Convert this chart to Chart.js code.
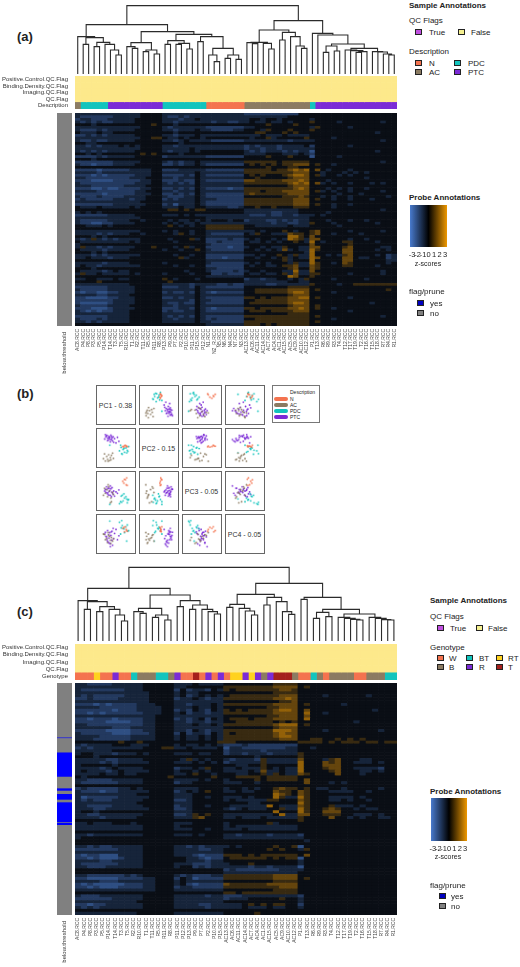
<!DOCTYPE html>
<html>
<head>
<meta charset="utf-8">
<title>Heatmaps and PCA</title>
<script src="https://cdn.jsdelivr.net/npm/chart.js@4/dist/chart.umd.min.js"></script>
<style>
html, body { margin: 0; background: #fff; }
#page { position: relative; width: 520px; height: 967px; overflow: hidden; font-family: "Liberation Sans", Arial, sans-serif; color: #222; }
#page canvas { position: absolute; }
.txt { position: absolute; white-space: nowrap; transform: translateY(-50%); }
.swatch { position: absolute; width: 5px; height: 4px; border: 1px solid #222; }
.pcbox { position: absolute; width: 38px; height: 38px; border: 1px solid #666; display: flex; align-items: center; justify-content: center; font-size: 7px; color: #333; white-space: nowrap; }
.key { position: absolute; width: 14px; height: 4px; border-radius: 2px; }
</style>
</head>
<body>
<div id="page"></div>
<script>
// samples, left to right
const samplesA = ['AC8','P4','P8','P3','P5','P14','T14','T3','T5','R10','T1','R2','T11','R5','R11','R8','P13','P9','P7','P2','P10','P11','P15','P12','N1','N2_R','N5','N6','N4','N7','N3','AC13','AC6','AC11','AC14','AC7','AC4','AC1','AC15','AC5','AC9','AC10','AC12','P1','T13','R6','R9','R3','T4','T12','T17','T19','T2','T16','T15','T18','R7','R4','R1'];
const samplesC = ['AC8','P4','P8','P3','P5','P14','T14','T3','T5','R2','R10','T1','T11','R5','R11','R8','P11','P12','P13','P9','P7','P2','P10','P15','AC13','AC6','AC11','AC14','AC7','AC4','AC1','AC15','AC5','AC9','AC10','AC12','P1','T13','R6','R9','R3','T4','T12','T17','T19','T2','T16','T15','T18','R7','R4','R1'];

const tracksA = ['Positive.Control.QC.Flag','Binding.Density.QC.Flag','Imaging.QC.Flag','QC.Flag','Description'];
const tracksC = ['Positive.Control.QC.Flag','Binding.Density.QC.Flag','Imaging.QC.Flag','QC.Flag','Genotype'];

// A=AC D=PDC T=PTC N=N
const descriptionA = 'ADDDDDTTTTTTTTTTDDDDDDDDNNNNNNNAAAAAAAAAAAADTTTTTTTTTTTTTTT';
// W B K=BT R Y=RT X=T
const genotypeC = 'WWWYWWRWWKBBBKKBRWWXWRWRWYYRYRBRXXXBWWKBWBBBBWWBBBKK';

const annotColors = { A: '#8b7b62', D: '#12c4bd', T: '#7b2bd6', N: '#f4734f', W: '#f4734f', B: '#8b7b62', K: '#12c4bd', R: '#7b2bd6', Y: '#ffd21f', X: '#a5201c' };
const flagColor = '#fde98b';

// dendrograms: [height, left, right], 0 is a leaf
const treeA = [205,
  [148,
    [112, 0, [109, [89, 0, 0], [95, [82, 0, 0], [89, 0, [72, 0, [57, 0, 0]]]]]],
    [127,
      [94, [82, 0, [77, 0, 0]], [72, [67, 0, 0], [60, 0, 0]]],
      [119,
        [100, [89, 0, 0], [92, [89, 0, 0], [75, 0, 0]]],
        [112, [97, 0, 0], [77, [57, 0, [37, 0, 0]], [57, [47, 0, 0], [44, 0, 0]]]]]]],
  [160,
    [132,
      [95, [94, 0, [91, 0, 0]], [92, 0, [75, 0, 0]]],
      [125, [102, 0, 0], [112, 0, [84, 0, [77, 0, 0]]]]],
    [122, 0, [117, 0,
      [90,
        [84, [65, 0, 0], [69, 0, 0]],
        [77, [72, 0, [70, 0, [67, [65, 0, 0], 0]]], [67, 0, [66, 0, [60, 0, [57, 0, 0]]]]]]]]]];

const treeC = [221,
  [158,
    [121, 0, [118, [95, 0, 0], [103, [88, 0, 0], [95, 0, [78, 0, [60, 0, 0]]]]]],
    [138,
      [98, [88, 0, [83, 0, 0]], [78, [71, 0, 0], [63, 0, 0]]],
      [121, [103, 0, 0], [108, [95, 0, 0], [95, 0, [88, 0, [81, 0, 0]]]]]]],
  [173,
    [140,
      [110, [101, 0, 0], [98, 0, [90, 0, [78, 0, 0]]]],
      [131, [108, 0, 0], [118, 0, [88, 0, [80, 0, 0]]]]],
    [131,
      [125, 0, 0],
      [95,
        [86, [68, 0, 0], [73, 0, 0]],
        [81,
          [71, 0, [68, 0, [65, 0, [63, 0, 0]]]],
          [71, 0, [68, 0, [64, 0, [63, 0, 0]]]]]]]]];

// z-scores, one digit per cell: 4 is 0, each step 0.6, one line per probe band
const heatA = [
'333333333 3334444 33333333 3333333 222222222244 44 44444444444444',
'322222233 3334444 32232333 3333333 333333334444 44 44444444444444',
'233222333 3344444 33323343 3333333 344344344444 34 44444444444444',
'323232233 3344444 33233333 3233223 343343343444 54 44434444444344',
'444344444 4444454 44344444 4444444 444454444544 44 44444444444444',
'333333333 3334444 32333333 2222222 334444444444 35 44444344444444',
'322232333 3344444 33233343 3222233 444354445444 54 44444444444444',
'433343344 4444444 44344444 4444444 445544454544 44 44444444443444',
'223232333 3344444 33233343 3333333 333433343333 44 44444444444444',
'333333333 3334455 43343443 4444444 434453444445 44 44344444444444',
'322322333 3344444 33234333 3222222 333333332333 34 44444444444344',
'443344444 4444444 44434444 4444444 444444444444 44 44444444444444',
'332323334 3434444 33233333 3333333 232333233334 24 44444344444444',
'333333333 3334444 33333433 3333333 233233233333 34 44444444444444',
'323232333 3344444 32333434 4444444 323233323233 14 44444444443444',
'443434444 4445454 44434444 4444444 333344433343 24 44444444444444',
'222232333 3344444 23333333 2222222 444454445444 14 44434444444444',
'444344444 4444444 44444444 4444444 444444444444 44 44444444444444',
'222222233 3334444 32323343 3333333 555555455555 44 44444444444344',
'322122233 3344444 22323343 2222222 454545455666 45 44344444444444',
'444444444 4444444 44444444 4444444 444454445544 44 44444444444444',
'222212222 2333344 22233333 2222222 555554556767 46 43444344444444',
'333323333 3333344 33333343 3333333 555555555666 44 34443434344444',
'222121222 2233344 22223243 2222222 454544456776 45 34434344444444',
'332222222 2333444 33233343 3333333 445444445666 44 44444444344444',
'222111122 2223344 22232243 2222222 665555566676 44 43444444444444',
'322222222 2233344 32323243 3333333 555555556767 46 34344344434344',
'333222222 3333444 33333343 3333333 444444445666 44 44444444444444',
'222112112 2223344 22323243 2222122 555555555676 44 43434344344444',
'333322222 2233444 33233343 3333333 555455566666 45 34344344444344',
'222221222 2233344 22323243 2222222 565555556666 44 44434443444444',
'322232222 3333444 32223343 2222222 444444455565 44 34344344444434',
'232222233 3233444 23233343 3322222 555555555666 45 44344344434444',
'333333333 3334444 33333343 2222222 555555555666 44 44444444444444',
'222222233 3333444 23133343 2222222 555555555666 45 44344344444444',
'433343333 3434444 33343344 3333223 445445444555 44 44344444444444',
'444444444 4444444 45545455 4444444 333333333344 44 44444444444344',
'343434444 4444444 44444444 4444444 333332233344 44 43444444444444',
'222222333 3344444 33343433 3333333 322232233233 34 34444444444444',
'333333333 3334444 44444444 3333333 333333333333 44 44444444444444',
'322222333 3443444 43433434 3444344 233322323233 44 43444344344444',
'322112233 3344444 34343343 3333333 333332332233 54 44344444443444',
'443334344 4444444 45434344 5555555 443333334333 44 44434444444444',
'444444444 4444444 44444444 5555555 444444444444 44 44444444444444',
'333333333 3334444 34344344 3333333 334344454344 56 44444344444344',
'333323233 3443444 44354344 3222222 435443336554 56 44344443444444',
'444343444 4444444 44444444 3333333 444444447754 64 44444444444444',
'323532323 3334444 43444534 2222322 343443437653 66 44444344344444',
'433333333 3434444 44344444 2232222 433434344543 74 34445544443444',
'344444444 4444444 44444444 3222222 444444444444 64 44444544444444',
'353323233 3344454 44345344 2222122 344343354433 66 44445644444334',
'433332333 3444444 34434454 3222222 443434363433 75 44446644443434',
'444343444 4444444 44444444 3333333 444444444443 74 44446644444444',
'333232333 3334444 44344344 2222222 334344543533 74 43435644443423',
'334333233 3444444 44453444 2221222 443443453433 76 44446643344423',
'444444444 4444444 44444444 3333333 444444453444 74 44446644444433',
'333332333 3444444 34444444 3222222 343434443533 75 44346544444434',
'343323333 3334444 44344344 2222222 434433455633 65 44445544443444',
'444344444 4444444 44444444 3322222 444444445644 65 44444444444444',
'433332343 3444444 44443444 3222232 344344433733 64 44444444444344',
'353343333 3434444 34444344 4223222 433433453633 55 44444344444344',
'444444444 4444444 44444444 3333333 444444447644 54 44444444444444',
'334433343 3444444 54344434 4444444 233233443435 44 44344444344444',
'444454444 4444444 45444444 4444444 333333334433 44 44444444444444',
'333333333 3444444 33333233 3322322 333322333333 54 44434455555555',
'222222333 3344444 22233243 2222222 444444445555 44 44444444444444',
'322222333 3344444 33333343 3333333 445555556666 45 44444444444454',
'212211223 3344444 23223243 2122222 445555556776 44 44344444444444',
'333322333 3444444 33333343 3333333 444444445666 44 44444444444444',
'221111223 3344444 22323343 2222222 554545556677 45 44444344444444',
'222222233 3344444 33333243 3222222 445555556666 44 44444444444444',
'211111233 3344444 32232243 2222222 455555556776 44 44444444434444',
'322222333 3444444 33233343 3333333 444444445666 45 44444444444444',
'222111233 3344444 22233243 2122222 554555556676 45 44344444444444',
'321212233 3444444 23223343 2222222 455545555666 44 44444344444444',
'333333333 3444444 33333343 3333333 444444445555 44 44444444444444',
'222222333 3444444 32323243 2222222 555555555555 45 44444444444344',
'322232333 3444444 33233343 2322222 445555555555 44 44344444444444',
'332323333 3444444 33333343 3222222 555555555555 45 44444444444444',
'444444444 4444444 44444444 3333333 555454555555 44 44444444444444'
];

const heatC = [
'332222333 3344444 33343333 444444445555 44 44444444444444',
'333333333 3344444 33444444 555555556666 45 44444444444444',
'322222223 3344444 24233243 545555555665 44 44444444444444',
'333333333 3334444 34334444 444444445555 44 44444444444444',
'323222223 3334444 34234343 455555555666 44 44344444434444',
'223222233 3334444 23343233 555555556676 44 44444444444444',
'333333333 3334444 33333333 444444444556 44 44444444444444',
'222121222 2333444 33233343 555555556666 45 44444344444444',
'333322222 2333344 33343343 444444455666 44 44444444444444',
'222222122 2333344 23243243 545455556776 46 44444444443444',
'221212222 2233344 34233233 555555556666 47 44344444444444',
'333333333 3333444 33333333 444444455666 46 44444444444444',
'221222122 2233444 23234243 455545556666 47 44444444444444',
'222221111 2233444 33233233 445555554545 44 44444443444444',
'332222222 2233444 33343343 555555556777 45 44444444444444',
'333333222 3333444 33333333 444444445666 44 44444444444444',
'222221111 2233444 33243233 555555557776 44 44344444444344',
'322222111 2223444 24233243 545555556766 44 44444444444444',
'333322222 3333444 34334343 555555556776 44 44444444444444',
'333222222 3333444 34334343 555555555666 44 55445454544444',
'444444454 4544444 44444445 554444444444 55 55454555455455',
'323333444 3334444 34334343 222322222222 44 44444444444444',
'232333333 3344455 33433334 133222222233 44 34444444444444',
'333333444 4444444 44444444 233333233333 44 44444444444444',
'344333233 3434444 33343344 233233323333 54 44444444444444',
'444344444 4444444 44444444 444443444444 54 44444444444444',
'333332233 3344444 43534344 323332533333 64 44356444334444',
'333323233 3334444 33343434 233333533333 74 44656443334344',
'344444344 4444444 44444444 443344544444 74 44666444444444',
'333323433 3344444 23343544 334333543433 74 44566443333244',
'343332343 3334444 34434344 333343633433 74 44456444334344',
'333343343 3444444 33454434 443344535433 65 44446444344444',
'434444444 4444445 44444454 445555455555 44 44444444444444',
'332222333 3344444 33334344 344445455555 46 44444444444444',
'322222233 3344444 23344444 333443444444 46 44434344444444',
'444444444 4444444 44444444 444444444444 44 44444444444444',
'232222233 4344444 33334444 344343445655 45 43344344444344',
'322212233 3334444 23434544 334334446554 65 44433334434444',
'333333333 3444444 33344444 444444447654 65 44444444444444',
'312222233 3334444 33344344 333434447533 75 44433334344444',
'323222333 3344444 22344444 343333355444 65 44433434434444',
'333333333 3444444 33344444 444433444444 75 44444444444444',
'332222333 3344444 23344344 433333374333 65 44453334344444',
'333223333 3334444 22344444 323433344533 75 44565443433444',
'344344444 4444444 33344444 444444447444 75 44666444444444',
'332233333 3344444 22354544 333333334733 66 44555443334344',
'333323333 3444444 33356444 334333433333 54 44464434344334',
'444444444 4444444 44444444 444444444444 54 44444444444444',
'334333444 3444444 33344444 344444453444 44 44444444444444',
'333333333 3344444 34444444 343333333333 44 44444444444444',
'333333333 3344444 33344344 333433333333 44 44444444444444',
'444444444 4444444 44444444 444444444444 44 44444444444444',
'332333333 3344444 33343444 332333323333 24 44444444444444',
'344444444 4444444 44444444 333333333333 34 44444444444444',
'444444444 4444444 44444444 444444444444 43 44444444444444',
'444444444 4444444 44444444 444444444444 44 44444444444444',
'332322333 3344444 33232333 343444445445 14 44444444444444',
'222222233 3344444 33332233 444444454544 35 44444444444444',
'333333333 3344444 33333333 444444444444 44 44444444444444',
'212211133 3344444 33321222 555454555555 46 44444444444444',
'221211123 3344444 44332122 455555545455 14 44444444444444',
'333322333 3344444 44333233 444444444444 34 44444444444444',
'322222233 3344444 33322233 344454444444 34 44444444444444',
'332223333 3344444 34423233 333323323333 14 44444444444444',
'444444444 4444444 44444444 232222222333 34 44444444444444',
'444444444 4444444 44444444 333333333333 44 44444444444444',
'332222223 2344444 32322233 555555556666 44 44444444444444',
'221111122 2233444 24312222 555555556666 45 44444444444444',
'333322233 3333444 34333333 444444445555 44 44444444444444',
'212111112 2233444 34212222 655555566666 44 44444444444444',
'221211122 2233444 23322222 555555555666 44 44444444444444',
'333333333 3333444 33333333 444444445555 44 44444444444444',
'444444444 4444444 44444444 554555555555 44 44444444444444',
'322233333 3344444 33333233 222333333333 24 44444444444444',
'222222333 3344444 33333333 233344444544 34 44444444444444',
'333333333 3444444 33333333 444444444444 34 44444444444444',
'221223333 3344444 33332233 333454545544 24 44444444444444',
'323233333 3344444 33333233 333433343344 34 44444444444444',
'444444444 4444444 44444444 444444444444 44 44444444444444',
'333333333 3444444 33333333 444445444444 44 44444444444444'
];

// below.threshold runs, top to bottom
const flagKindsA = ['no'];
const flagCountsA = [640];
const flagKindsC = ['no','yes','no','yes','no','yes','no','yes','no','yes','no','yes','no'];
const flagCountsC = [165,2,43,73,35,7,10,17,8,60,2,6,270];
const flagColors = { no: '#808080', yes: '#0000ff' };

// PCA scores, each row is pc1, pc2, pc3, pc4 (scaled to the panel)
const pcN = [[.88,.56,.97,.62],[.80,.58,.92,.58],[.74,.55,.85,.7],[.78,.53,.78,.74],[.86,.57,.72,.66],[.90,.54,.70,.60],[.83,.6,.9,.76]];
const pcAC = [[.05,.12,.35,.5],[.12,.04,.42,.3],[.17,.2,.55,.35],[.2,.1,.3,.2],[.24,.26,.65,.45],[.27,.06,.5,.42],[.3,.16,.08,.28],[.34,.24,.12,.38],[.38,.32,.45,.25],[.22,.03,.72,.55],[.41,.13,.38,.33],[.09,.29,.6,.48],[.32,.08,.25,.17]];
const pcPDC = [[.62,.4,.05,.92],[.7,.3,.1,.98],[.75,.45,.15,.7],[.8,.35,.25,.55],[.85,.5,.3,.75],[.9,.42,.08,.82],[.95,.55,.2,.62],[.66,.6,.12,.5],[.72,.28,.35,.8],[.78,.48,.4,.68],[.88,.33,.22,.25],[.92,.38,.18,.6],[.28,.6,.02,.96],[.68,.52,.32,.72]];
const pcPTC = [[.1,.82,.5,.5],[.14,.9,.45,.42],[.18,.95,.55,.3],[.2,.85,.4,.62],[.22,.78,.6,.2],[.25,.92,.48,.36],[.28,.88,.52,.55],[.3,.72,.35,.15],[.32,.96,.58,.45],[.35,.8,.46,.28],[.36,.86,.62,.6],[.38,.75,.42,.1],[.4,.9,.38,.7],[.42,.7,.5,.34],[.45,.83,.32,.52],[.16,.93,.65,.4],[.2,.76,.44,.24],[.24,.87,.36,.48],[.12,.98,.56,.56],[.3,.8,.68,.05],[.5,.68,.47,.66],[.55,.88,.42,.3],[.6,.74,.54,.44],[.34,.91,.3,.58],[.26,.84,.6,.18]];
const pcLabels = ['PC1 - 0.38','PC2 - 0.15','PC3 - 0.05','PC4 - 0.05'];

const zRange = [-3.36, 3.36];

Chart.defaults.font.family = '"Liberation Sans", Arial, sans-serif';
Chart.defaults.animation = false;
Chart.defaults.responsive = false;
Chart.defaults.plugins.legend.display = false;
Chart.defaults.plugins.tooltip.enabled = false;

const page = document.getElementById('page');

function addChart(x, y, w, h, config) {
    const c = document.createElement('canvas');
    c.width = w;
    c.height = h;
    c.style.left = x + 'px';
    c.style.top = y + 'px';
    page.appendChild(c);
    return new Chart(c.getContext('2d'), config);
}

function addText(str, x, y, size, bold, center) {
    const d = document.createElement('div');
    d.className = 'txt';
    d.textContent = str;
    d.style.left = x + 'px';
    d.style.top = y + 'px';
    d.style.fontSize = size + 'px';
    if (bold) d.style.fontWeight = 'bold';
    if (center) d.style.transform = 'translate(-50%,-50%)';
    page.appendChild(d);
}

function addSwatch(x, y, color) {
    const d = document.createElement('div');
    d.className = 'swatch';
    d.style.left = x + 'px';
    d.style.top = y - 3 + 'px';
    d.style.background = color;
    page.appendChild(d);
}

function zColor(z) {
    const t = Math.min(Math.abs(z) / 3, 1);
    const to = z < 0 ? [72, 122, 205] : [238, 152, 0];
    const from = [10, 14, 21];
    return `rgb(${from.map((f, i) => Math.round(f + (to[i] - f) * t)).join(',')})`;
}

function treeSegments(tree) {
    let leaf = 0;
    const pts = [];
    function walk(node) {
        if (node === 0) return { x: leaf++ + 0.5, y: 0 };
        const l = walk(node[1]);
        const r = walk(node[2]);
        pts.push({ x: l.x, y: l.y }, { x: l.x, y: node[0] }, { x: r.x, y: node[0] }, { x: r.x, y: r.y }, { x: NaN, y: NaN });
        return { x: (l.x + r.x) / 2, y: node[0] };
    }
    walk(tree);
    return pts;
}

function drawTree(x, y, w, h, tree, n, yMax) {
    addChart(x, y, w, h, {
        type: 'scatter',
        data: { datasets: [{ data: treeSegments(tree), showLine: true, pointRadius: 0, borderColor: '#2b2b2b', borderWidth: 1.1, spanGaps: false }] },
        options: {
            scales: {
                x: { type: 'linear', display: false, min: 0, max: n },
                y: { type: 'linear', display: false, min: 0, max: yMax }
            }
        }
    });
}

function drawTracks(y, h, tracks, samples, lastTrack) {
    const datasets = samples.map((s, i) => ({
        label: s,
        data: tracks.map(() => 1),
        backgroundColor: tracks.map((t, k) => k === tracks.length - 1 ? annotColors[lastTrack[i]] : flagColor),
        borderWidth: 0,
        barPercentage: 1,
        categoryPercentage: 1
    }));
    addChart(0, y, 397, h, {
        type: 'bar',
        data: { labels: tracks, datasets },
        options: {
            indexAxis: 'y',
            layout: { padding: 0 },
            scales: {
                x: { stacked: true, display: false, min: 0, max: samples.length },
                y: {
                    stacked: true,
                    grid: { display: false, drawTicks: false },
                    border: { display: false },
                    ticks: { font: { size: 6 }, color: '#333', padding: 7, autoSkip: false },
                    afterFit(s) { s.width = 75; s.paddingTop = 0; s.paddingBottom = 0; }
                }
            }
        }
    });
}

function drawHeat(y, h, tickH, samples, rows) {
    const cells = rows.map(r => r.replace(/ /g, ''));
    // first line on top, so it goes last on the stack
    const datasets = cells.slice().reverse().map(r => ({
        data: samples.map(() => 1),
        backgroundColor: samples.map((s, i) => zColor((Number(r[i] ?? 4) - 4) * 0.6)),
        borderWidth: 0,
        barPercentage: 1,
        categoryPercentage: 1
    }));
    addChart(75, y, 322, h + tickH, {
        type: 'bar',
        data: { labels: samples.map(s => s + '.RCC'), datasets },
        options: {
            layout: { padding: 0 },
            scales: {
                x: {
                    stacked: true,
                    grid: { display: false, drawTicks: false },
                    border: { display: false },
                    ticks: { font: { size: 5 }, color: '#444', minRotation: 90, maxRotation: 90, autoSkip: false, padding: 3 },
                    afterFit(s) { s.height = tickH; s.paddingLeft = 0; s.paddingRight = 0; }
                },
                y: { stacked: true, display: false, min: 0, max: rows.length }
            }
        }
    });
}

function drawFlags(y, h, tickH, kinds, counts) {
    const total = counts.reduce((a, b) => a + b, 0);
    const datasets = kinds.map((k, i) => ({
        data: [counts[i]],
        backgroundColor: flagColors[k],
        borderWidth: 0,
        barPercentage: 1,
        categoryPercentage: 1
    })).reverse();
    addChart(57, y, 15, h + tickH, {
        type: 'bar',
        data: { labels: ['below.threshold'], datasets },
        options: {
            layout: { padding: 0 },
            scales: {
                x: {
                    stacked: true,
                    grid: { display: false, drawTicks: false },
                    border: { display: false },
                    ticks: { font: { size: 6 }, color: '#333', minRotation: 90, maxRotation: 90, padding: 6 },
                    afterFit(s) { s.height = tickH; s.paddingLeft = 0; s.paddingRight = 0; }
                },
                y: { stacked: true, display: false, min: 0, max: total }
            }
        }
    });
}

function drawColorbar(x, y, w, h) {
    const grad = ctx => {
        const a = ctx.chart.chartArea;
        if (!a) return '#000';
        const g = ctx.chart.ctx.createLinearGradient(a.left, 0, a.right, 0);
        g.addColorStop(0, zColor(-3));
        g.addColorStop(0.5, '#000');
        g.addColorStop(1, zColor(3));
        return g;
    };
    addChart(x - 3, y, w + 6, h + 13, {
        type: 'scatter',
        data: { datasets: [{ data: zRange.map(z => ({ x: z, y: 1 })), showLine: true, pointRadius: 0, borderWidth: 0, fill: 'origin', backgroundColor: grad }] },
        options: {
            layout: { padding: { left: 3, right: 3 } },
            scales: {
                x: {
                    type: 'linear',
                    min: zRange[0],
                    max: zRange[1],
                    afterBuildTicks(s) { s.ticks = [-3, -2, -1, 0, 1, 2, 3].map(v => ({ value: v })); },
                    grid: { display: false, drawTicks: false },
                    border: { display: false },
                    ticks: { font: { size: 7.5 }, color: '#222', maxRotation: 0, minRotation: 0, autoSkip: false, padding: 3 },
                    afterFit(s) { s.height = 13; s.paddingLeft = 0; s.paddingRight = 0; }
                },
                y: { display: false, min: 0, max: 1 }
            }
        }
    });
}

// (a)
addText('(a)', 17, 36, 13, true);
drawTree(75, 5, 322, 69, treeA, samplesA.length, 207);
drawTracks(76, 33.5, tracksA, samplesA, descriptionA);
drawHeat(112.5, 213, 30, samplesA, heatA);
drawFlags(112.5, 213, 50, flagKindsA, flagCountsA);

addText('Sample Annotations', 409, 5, 8, true);
addText('QC Flags', 409, 20, 8);
addSwatch(415, 32, '#c050e0');
addText('True', 429, 32, 8);
addSwatch(458, 32, '#f5f090');
addText('False', 471, 32, 8);
addText('Description', 409, 51, 8);
addSwatch(415, 63, annotColors.N);
addText('N', 429, 63, 8);
addSwatch(415, 72, annotColors.A);
addText('AC', 429, 72, 8);
addSwatch(454, 63, annotColors.D);
addText('PDC', 468, 63, 8);
addSwatch(454, 72, annotColors.T);
addText('PTC', 468, 72, 8);
addText('Probe Annotations', 409, 197, 8, true);
drawColorbar(410, 205, 37, 42);
addText('z-scores', 428, 263, 7, false, true);
addText('flag/prune', 409, 291, 8);
addSwatch(417, 303, '#0000c0');
addText('yes', 430, 303, 8);
addSwatch(417, 313, '#808080');
addText('no', 430, 313, 8);

// (b)
addText('(b)', 17, 393, 13, true);
const pcGroups = [[pcN, annotColors.N], [pcAC, annotColors.A], [pcPDC, annotColors.D], [pcPTC, annotColors.T]];
const panelX = [95.5, 138.5, 181.5, 224.5];
const panelY = [385, 428, 471, 514];
panelY.forEach((py, r) => panelX.forEach((px, c) => {
    if (r === c) {
        const box = document.createElement('div');
        box.className = 'pcbox';
        box.style.left = px + 'px';
        box.style.top = py + 'px';
        box.textContent = pcLabels[r];
        page.appendChild(box);
        return;
    }
    const chart = addChart(px, py, 40, 40, {
        type: 'scatter',
        data: {
            datasets: pcGroups.map(([pts, color]) => ({
                data: pts.map(p => ({ x: p[c], y: p[r] })),
                backgroundColor: color,
                pointRadius: 0.9,
                pointBorderWidth: 0
            }))
        },
        options: {
            layout: { padding: 1 },
            scales: {
                x: { display: false, min: -0.04, max: 1.04 },
                y: { display: false, min: -0.04, max: 1.04 }
            }
        }
    });
    chart.canvas.style.boxSizing = 'border-box';
    chart.canvas.style.border = '1px solid #666';
}));

const legendBox = document.createElement('div');
legendBox.style.cssText = 'position:absolute;left:272px;top:385px;width:46px;height:36px;border:1px solid #777;';
page.appendChild(legendBox);
addText('Description', 290, 392, 5);
['N', 'AC', 'PDC', 'PTC'].forEach((name, i) => {
    const k = document.createElement('div');
    k.className = 'key';
    k.style.left = '274px';
    k.style.top = (396.5 + i * 6.3) + 'px';
    k.style.background = pcGroups[i][1];
    page.appendChild(k);
    addText(name, 290, 398.5 + i * 6.3, 5);
});

// (c)
addText('(c)', 17, 611, 13, true);
drawTree(75, 566, 322, 75, treeC, samplesC.length, 225);
drawTracks(644, 36.7, tracksC, samplesC, genotypeC);
drawHeat(683.3, 232.7, 30, samplesC, heatC);
drawFlags(683.3, 232.7, 50, flagKindsC, flagCountsC);

addText('Sample Annotations', 430, 600, 8, true);
addText('QC Flags', 430, 616, 8);
addSwatch(437, 628, '#c050e0');
addText('True', 450, 628, 8);
addSwatch(476, 628, '#f5f090');
addText('False', 488, 628, 8);
addText('Genotype', 430, 647, 8);
addSwatch(437, 658, annotColors.W);
addText('W', 449, 658, 8);
addSwatch(437, 667, annotColors.B);
addText('B', 449, 667, 8);
addSwatch(466, 658, annotColors.K);
addText('BT', 479, 658, 8);
addSwatch(466, 667, annotColors.R);
addText('R', 479, 667, 8);
addSwatch(496, 658, annotColors.Y);
addText('RT', 508, 658, 8);
addSwatch(496, 667, annotColors.X);
addText('T', 508, 667, 8);
addText('Probe Annotations', 430, 791, 8, true);
drawColorbar(431, 798, 36, 43);
addText('z-scores', 448, 856, 7, false, true);
addText('flag/prune', 430, 885, 8);
addSwatch(439, 896, '#0000c0');
addText('yes', 451, 896, 8);
addSwatch(439, 906, '#808080');
addText('no', 451, 906, 8);
</script>
</body>
</html>
